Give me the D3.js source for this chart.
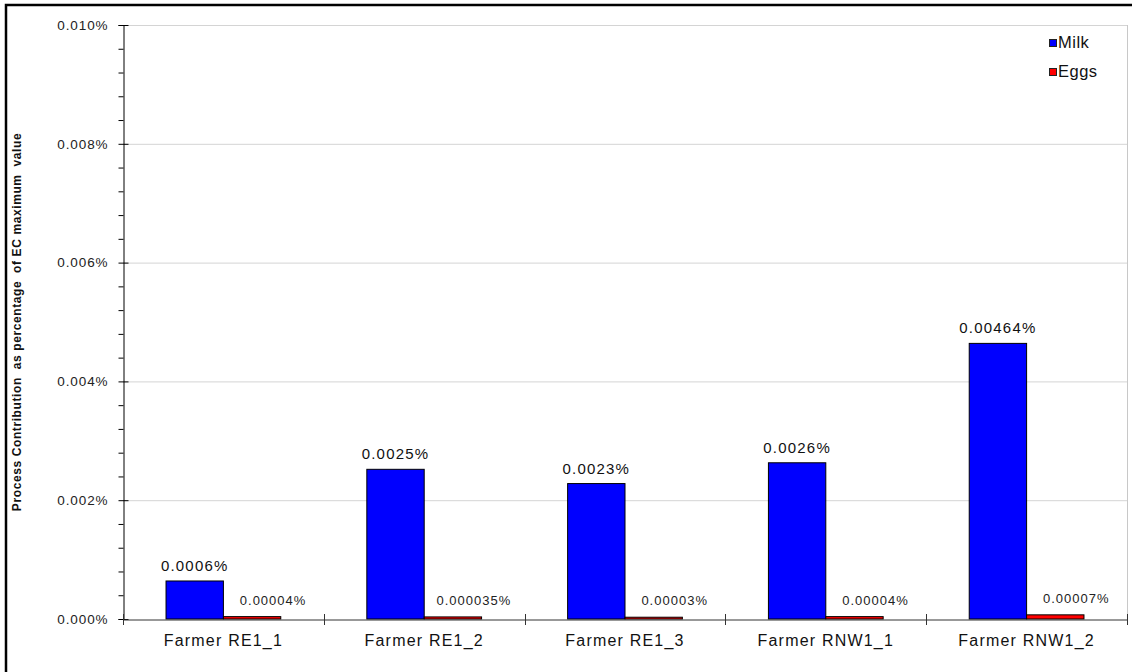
<!DOCTYPE html>
<html>
<head>
<meta charset="utf-8">
<script src="https://cdn.jsdelivr.net/npm/d3@7"></script>
<style>
  html, body { margin: 0; padding: 0; background: #fff; }
  svg { display: block; font-family: "Liberation Sans", Arial, sans-serif; }
</style>
</head>
<body>
<svg id="chart" width="1132" height="672"></svg>
<script>
// Farm categories and per-product process contributions (as % of EC maximum value)
const categories = ["Farmer RE1_1", "Farmer RE1_2", "Farmer RE1_3", "Farmer RNW1_1", "Farmer RNW1_2"];
const milkValues = [0.00064, 0.00252, 0.00228, 0.00263, 0.00464];
const eggsValues = [0.00004, 0.000035, 0.00003, 0.00004, 0.00007];
const milkLabels = ["0.0006%", "0.0025%", "0.0023%", "0.0026%", "0.00464%"];
const eggsLabels = ["0.00004%", "0.000035%", "0.00003%", "0.00004%", "0.00007%"];
const seriesNames = ["Milk", "Eggs"];
const seriesColors = ["#0000ff", "#ff0000"];
const yMajorTicks = [0, 0.002, 0.004, 0.006, 0.008, 0.010];
const yMinorTicks = [0.0004, 0.0008, 0.0012, 0.0016, 0.0024, 0.0028, 0.0032, 0.0036,
                     0.0044, 0.0048, 0.0052, 0.0056, 0.0064, 0.0068, 0.0072, 0.0076,
                     0.0084, 0.0088, 0.0092, 0.0096];
const yTitle = "Process Contribution  as percentage  of EC maximum  value";

const svg = d3.select("#chart");
const plot = { left: 123, top: 25, right: 1127, bottom: 619 };

// Outer frame (right and bottom edges fall just outside the canvas)
svg.append("rect")
  .attr("x", 6).attr("y", 5).attr("width", 1132).attr("height", 672)
  .attr("fill", "none").attr("stroke", "#000").attr("stroke-width", 2.5);

const x = d3.scaleBand().domain(categories).range([plot.left, plot.right]).paddingInner(0).paddingOuter(0);
const y = d3.scaleLinear().domain([0, 0.010]).range([plot.bottom, plot.top]);
const barW = x.bandwidth() / 3.5;

// Gridlines
svg.append("g").selectAll("line").data(yMajorTicks.filter(d => d > 0)).join("line")
  .attr("x1", plot.left).attr("x2", plot.right)
  .attr("y1", d => y(d) + 0.5).attr("y2", d => y(d) + 0.5)
  .attr("stroke", "#d4d4d4").attr("stroke-width", 1);

// Right plot border
svg.append("line")
  .attr("x1", plot.right + 0.5).attr("x2", plot.right + 0.5)
  .attr("y1", plot.top).attr("y2", plot.bottom)
  .attr("stroke", "#c8c8c8");

// Bars
const groups = svg.append("g").selectAll("g").data(categories).join("g");
groups.append("rect")
  .attr("x", d => x(d) + x.bandwidth() / 2 - barW)
  .attr("y", (d, i) => y(milkValues[i]))
  .attr("width", barW)
  .attr("height", (d, i) => y(0) - y(milkValues[i]))
  .attr("fill", seriesColors[0]).attr("stroke", "#000").attr("stroke-width", 1);
groups.append("rect")
  .attr("x", d => x(d) + x.bandwidth() / 2)
  .attr("y", (d, i) => y(eggsValues[i]))
  .attr("width", barW)
  .attr("height", (d, i) => y(0) - y(eggsValues[i]))
  .attr("fill", seriesColors[1]).attr("stroke", "#000").attr("stroke-width", 1);

// Value labels
groups.append("text")
  .attr("x", d => x(d) + x.bandwidth() / 2 - barW / 2)
  .attr("y", (d, i) => y(milkValues[i]) - 10)
  .attr("text-anchor", "middle")
  .attr("font-size", 15).attr("letter-spacing", 1.2).attr("fill", "#111")
  .text((d, i) => milkLabels[i]);
groups.append("text")
  .attr("x", d => x(d) + x.bandwidth() / 2 + barW / 2 + 21)
  .attr("y", (d, i) => y(eggsValues[i]) - 12)
  .attr("text-anchor", "middle")
  .attr("font-size", 13).attr("letter-spacing", 1).attr("fill", "#222")
  .text((d, i) => eggsLabels[i]);

// Y axis: major ticks with labels, minor ticks outside
const yAxis = svg.append("g").attr("transform", `translate(${plot.left + 0.5},0)`)
  .call(d3.axisLeft(y).tickValues(yMajorTicks).tickSize(5).tickPadding(10)
    .tickFormat(d => d3.format(".3f")(d) + "%"));
yAxis.select(".domain").attr("stroke", "#000");
yAxis.selectAll(".tick line").attr("x2", 5).attr("x1", -5).attr("stroke", "#000");
yAxis.selectAll(".tick text")
  .attr("font-size", 13.5).attr("letter-spacing", 0.9).attr("fill", "#222")
  .attr("font-family", "Liberation Sans, Arial, sans-serif");
svg.append("g").attr("transform", `translate(${plot.left + 0.5},0)`)
  .call(d3.axisLeft(y).tickValues(yMinorTicks).tickSize(5).tickFormat(""))
  .call(g => g.select(".domain").remove())
  .selectAll(".tick line").attr("stroke", "#000");

// X axis: category labels at band centers, separators at band edges
const xAxis = svg.append("g").attr("transform", `translate(0,${plot.bottom + 0.5})`)
  .call(d3.axisBottom(x).tickSize(0).tickPadding(15));
xAxis.select(".domain").attr("stroke", "#333");
xAxis.selectAll(".tick text")
  .attr("font-size", 16).attr("letter-spacing", 1.2).attr("fill", "#111")
  .attr("font-family", "Liberation Sans, Arial, sans-serif");
const edges = categories.map(c => x(c)).concat([plot.right]);
svg.append("g").selectAll("line").data(edges).join("line")
  .attr("x1", d => Math.round(d) + 0.5).attr("x2", d => Math.round(d) + 0.5)
  .attr("y1", plot.bottom - 5).attr("y2", plot.bottom + 6)
  .attr("stroke", "#333");

// Y title
svg.append("text")
  .attr("transform", `translate(21,${(plot.top + plot.bottom) / 2}) rotate(-90)`)
  .attr("text-anchor", "middle")
  .attr("font-size", 12).attr("font-weight", "bold").attr("letter-spacing", 0.6)
  .attr("fill", "#111")
  .style("white-space", "pre")
  .text(yTitle);

// Legend
const legend = svg.append("g").selectAll("g").data(seriesNames).join("g")
  .attr("transform", (d, i) => `translate(1049,${39 + i * 29})`);
legend.append("rect")
  .attr("x", 0.5).attr("y", 0.5).attr("width", 7).attr("height", 7)
  .attr("fill", (d, i) => seriesColors[i]).attr("stroke", "#222").attr("stroke-width", 1);
legend.append("text")
  .attr("x", 9).attr("y", 9)
  .attr("font-size", 16.5).attr("letter-spacing", 0.5).attr("fill", "#111")
  .text(d => d);
</script>
</body>
</html>
